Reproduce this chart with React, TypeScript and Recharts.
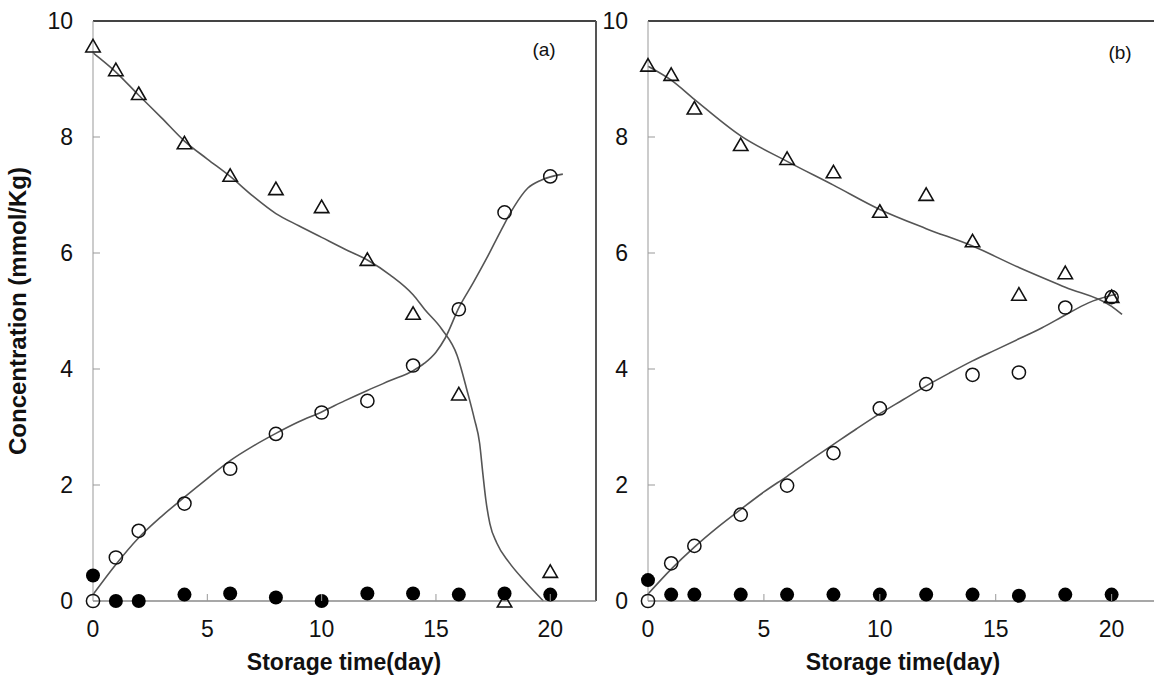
import React from 'react';
import { ComposedChart, Line, Scatter, XAxis, YAxis, ReferenceLine } from 'recharts';

// measured points, panel (a)
const DAYS = [0, 1, 2, 4, 6, 8, 10, 12, 14, 16, 18, 20];
const A_TRIANGLE = [9.57, 9.16, 8.75, 7.9, 7.34, 7.11, 6.8, 5.89, 4.96, 3.57, 0, 0.51];
const A_CIRCLE = [0, 0.75, 1.21, 1.68, 2.28, 2.88, 3.25, 3.45, 4.06, 5.03, 6.7, 7.32];
const A_FILLED = [0.44, 0, 0, 0.11, 0.13, 0.06, 0, 0.13, 0.13, 0.11, 0.13, 0.11];

// fitted curves, panel (a)
const A_TRI_FIT_DAYS = [0, 1, 2, 3, 4, 5, 6, 7, 8, 9, 10, 11, 12, 13, 14, 14.5, 15.25, 15.93, 16.38, 16.68, 16.91, 17.05, 17.18, 17.36, 17.66, 18.19, 18.94, 19.7];
const A_TRI_FIT = [9.45, 9.12, 8.72, 8.33, 7.93, 7.62, 7.32, 6.98, 6.68, 6.47, 6.27, 6.07, 5.88, 5.62, 5.28, 5.03, 4.69, 4.23, 3.6, 3.14, 2.72, 2.2, 1.75, 1.33, 1.0, 0.67, 0.32, 0];
const A_CIR_FIT_DAYS = [0, 1, 2, 3, 4, 5, 6, 7, 8, 9, 10, 11, 12, 13, 14, 14.5, 15, 15.4, 16.02, 16.62, 17.22, 17.82, 18.42, 19.02, 19.62, 20.55];
const A_CIR_FIT = [0.11, 0.63, 1.09, 1.46, 1.79, 2.11, 2.42, 2.67, 2.89, 3.09, 3.26, 3.45, 3.63, 3.8, 3.97, 4.1, 4.29, 4.53, 5.07, 5.48, 5.91, 6.37, 6.8, 7.12, 7.26, 7.36];

// measured points, panel (b)
const B_TRIANGLE = [9.24, 9.08, 8.5, 7.87, 7.63, 7.4, 6.72, 7.01, 6.21, 5.29, 5.66, 5.25];
const B_CIRCLE = [0, 0.65, 0.95, 1.49, 1.99, 2.55, 3.32, 3.74, 3.9, 3.94, 5.06, 5.24];
const B_FILLED = [0.36, 0.11, 0.11, 0.11, 0.11, 0.11, 0.11, 0.11, 0.11, 0.09, 0.11, 0.11];

// fitted curves, panel (b)
const B_TRI_FIT_DAYS = [0, 1, 2, 4, 6, 8, 10, 12, 14, 16, 18, 20, 20.45];
const B_TRI_FIT = [9.22, 8.98, 8.65, 8.02, 7.58, 7.17, 6.75, 6.42, 6.12, 5.75, 5.41, 5.08, 4.94];
const B_CIR_FIT_DAYS = [0, 1, 2, 3, 4, 5, 6, 7, 8, 9, 10, 11, 12, 13, 14, 15, 16, 17, 18, 19, 20, 20.2];
const B_CIR_FIT = [0.12, 0.55, 0.93, 1.27, 1.58, 1.88, 2.15, 2.43, 2.7, 2.97, 3.23, 3.47, 3.71, 3.93, 4.14, 4.33, 4.52, 4.71, 4.93, 5.14, 5.27, 5.29];

const X_TICKS = [0, 5, 10, 15, 20];
const Y_TICKS = [0, 2, 4, 6, 8, 10];

const FONT = '"Liberation Sans", Arial, sans-serif';

const zip = (days: number[], values: number[]) => days.map((day, i) => ({ day, value: values[i] }));

const TriangleDot = (p: any) => {
  const { cx, cy } = p;
  return (
    <path
      d={`M${cx},${cy - 6.5} L${cx + 7.2},${cy + 6} L${cx - 7.2},${cy + 6} Z`}
      fill="none"
      stroke="#111"
      strokeWidth={1.6}
    />
  );
};

const OpenDot = (p: any) => <circle cx={p.cx} cy={p.cy} r={6.6} fill="none" stroke="#111" strokeWidth={1.5} />;
const FilledDot = (p: any) => <circle cx={p.cx} cy={p.cy} r={7} fill="#000" />;

const YTick = (p: any) => {
  const { x, y, payload } = p;
  const v = payload.value;
  return (
    <g>
      {v !== 0 && v !== 10 && <line x1={x} y1={y} x2={x + 7} y2={y} stroke="#999" strokeWidth={1} />}
      <text x={x - 20} y={y} dy="0.36em" textAnchor="end" fontSize={23} fontFamily={FONT} fill="#111">
        {v}
      </text>
    </g>
  );
};

const XTick = (p: any) => {
  const { x, y, payload } = p;
  const v = payload.value;
  return (
    <g>
      {v !== 0 && <line x1={x} y1={y} x2={x} y2={y - 7} stroke="#999" strokeWidth={1} />}
      <text x={x} y={y + 28} dy="0.36em" textAnchor="middle" fontSize={23} fontFamily={FONT} fill="#111">
        {v}
      </text>
    </g>
  );
};

interface PanelProps {
  tri: number[];
  cir: number[];
  filled: number[];
  triFit: { day: number; value: number }[];
  cirFit: { day: number; value: number }[];
  rightMargin: number;
  showRight: boolean;
}

function Panel({ tri, cir, filled, triFit, cirFit, rightMargin, showRight }: PanelProps) {
  return (
    <ComposedChart width={620} height={677} margin={{ top: 21, right: rightMargin, bottom: 0, left: 0 }}>
      <XAxis
        type="number"
        dataKey="day"
        domain={[0, 22]}
        ticks={X_TICKS}
        height={76}
        tickSize={0}
        tickMargin={0}
        tickLine={false}
        tick={<XTick />}
        axisLine={{ stroke: '#8a8a8a', strokeWidth: 1.5 }}
      />
      <YAxis
        type="number"
        domain={[0, 10]}
        ticks={Y_TICKS}
        width={93}
        tickSize={0}
        tickMargin={0}
        tickLine={false}
        tick={<YTick />}
        axisLine={{ stroke: '#999', strokeWidth: 1 }}
      />
      <ReferenceLine y={10} stroke="#444" strokeWidth={2} />
      {showRight && <ReferenceLine x={22} stroke="#555" strokeWidth={2} />}
      <Line data={triFit} dataKey="value" type="monotone" stroke="#555" strokeWidth={1.6} dot={false} isAnimationActive={false} />
      <Line data={cirFit} dataKey="value" type="monotone" stroke="#555" strokeWidth={1.6} dot={false} isAnimationActive={false} />
      <Scatter data={zip(DAYS, tri)} dataKey="value" shape={TriangleDot} isAnimationActive={false} />
      <Scatter data={zip(DAYS, cir)} dataKey="value" shape={OpenDot} isAnimationActive={false} />
      <Scatter data={zip(DAYS, filled)} dataKey="value" shape={FilledDot} isAnimationActive={false} />
    </ComposedChart>
  );
}

const titleStyle: React.CSSProperties = {
  position: 'absolute',
  fontFamily: FONT,
  fontWeight: 'bold',
  fontSize: 23,
  color: '#111',
  whiteSpace: 'nowrap',
  lineHeight: 1,
};

export default function App() {
  return (
    <div style={{ position: 'absolute', left: 0, top: 0, width: 1154, height: 677, overflow: 'hidden', background: '#fff' }}>
      <div style={{ position: 'absolute', left: 0, top: 0 }}>
        <Panel
          tri={A_TRIANGLE}
          cir={A_CIRCLE}
          filled={A_FILLED}
          triFit={zip(A_TRI_FIT_DAYS, A_TRI_FIT)}
          cirFit={zip(A_CIR_FIT_DAYS, A_CIR_FIT)}
          rightMargin={24}
          showRight
        />
      </div>
      <div style={{ position: 'absolute', left: 555, top: 0 }}>
        <Panel
          tri={B_TRIANGLE}
          cir={B_CIRCLE}
          filled={B_FILLED}
          triFit={zip(B_TRI_FIT_DAYS, B_TRI_FIT)}
          cirFit={zip(B_CIR_FIT_DAYS, B_CIR_FIT)}
          rightMargin={17}
          showRight={false}
        />
      </div>
      <div style={{ ...titleStyle, left: 344, top: 662, transform: 'translate(-50%, -50%)' }}>Storage time(day)</div>
      <div style={{ ...titleStyle, left: 903, top: 662, transform: 'translate(-50%, -50%)' }}>Storage time(day)</div>
      <div style={{ ...titleStyle, fontSize: 24, left: 18, top: 311, transform: 'translate(-50%, -50%) rotate(-90deg)' }}>
        Concentration (mmol/Kg)
      </div>
      <div style={{ position: 'absolute', left: 544, top: 50, transform: 'translate(-50%, -50%)', fontFamily: FONT, fontSize: 19, color: '#111' }}>
        (a)
      </div>
      <div style={{ position: 'absolute', left: 1120, top: 53, transform: 'translate(-50%, -50%)', fontFamily: FONT, fontSize: 19, color: '#111' }}>
        (b)
      </div>
    </div>
  );
}
